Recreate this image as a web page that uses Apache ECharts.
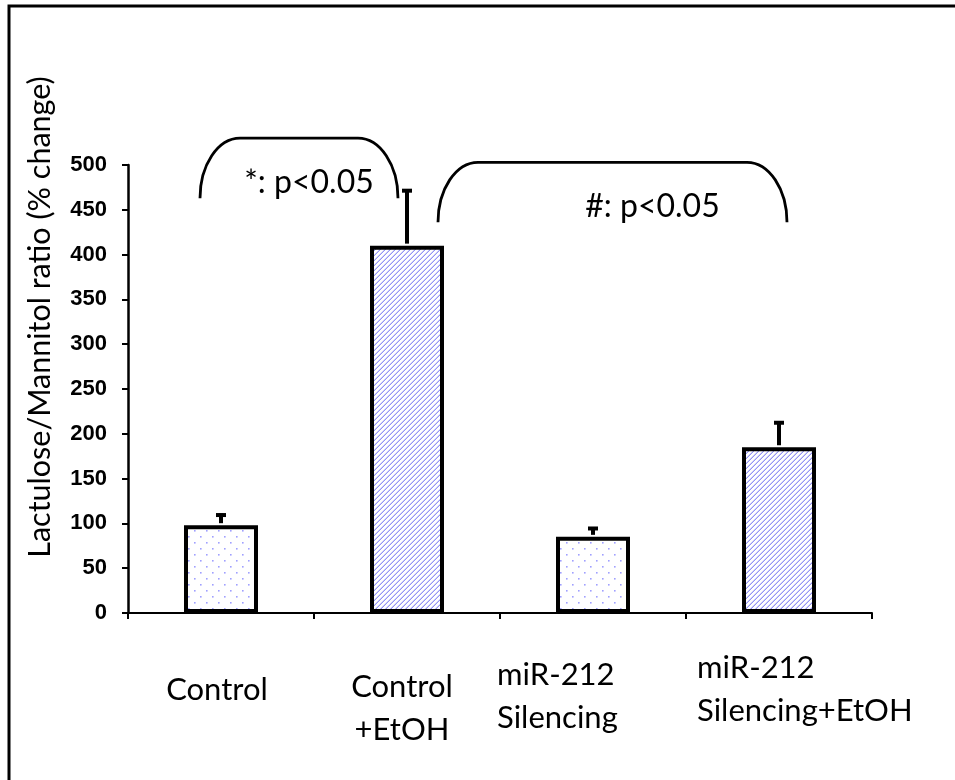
<!DOCTYPE html>
<html>
<head>
<meta charset="utf-8">
<title>Lactulose/Mannitol ratio</title>
<script src="https://cdn.jsdelivr.net/npm/echarts@6/dist/echarts.min.js"></script>
<style>
  html, body { margin: 0; padding: 0; background: #fff; }
  #chart { width: 955px; height: 780px; }
</style>
</head>
<body>
<div id="chart"></div>
<script>
// Groups shown on the x axis
var categories = ['Control', 'Control +EtOH', 'miR-212 Silencing', 'miR-212 Silencing+EtOH'];
// Axis label lines for each group
var categoryLabels = ['Control', 'Control\n+EtOH', 'miR-212\nSilencing', 'miR-212\nSilencing+EtOH'];
// Mean ratio (% change) and standard error for each group
var means = [98, 410, 85, 185];
var errors = [13, 63, 11, 29];
// Fill style per group: dots for non-EtOH, hatching for EtOH
var fills = ['dots', 'hatch', 'dots', 'hatch'];
// Y axis range and tick labels
var yMin = 0, yMax = 500, yStep = 50;
var yTickLabels = [0, 50, 100, 150, 200, 250, 300, 350, 400, 450, 500];
// Significance brackets: compared groups, bracket foot and crest heights, caption
var bracketPairs = [[0, 1], [1, 3]];
var bracketFoot = [463, 436];
var bracketCrest = [530, 503];
var bracketText = ['*: p<0.05', '#: p<0.05'];

var FONT = 'Lato, "Open Sans", sans-serif';

// Small repeating tiles used as bar fills
function makeHatch() {
  var n = 5;
  var c = document.createElement('canvas');
  c.width = n; c.height = n;
  var g = c.getContext('2d');
  g.fillStyle = '#ffffff';
  g.fillRect(0, 0, n, n);
  g.fillStyle = '#9494f5';
  for (var k = 0; k < n; k++) {
    g.fillRect(n - 1 - k, k, 1, 1);
  }
  g.fillStyle = '#cdcdfa';
  for (var j = 0; j < n; j++) {
    g.fillRect((2 * n - 2 - j) % n, j, 1, 1);
  }
  return c;
}
function makeDots() {
  var c = document.createElement('canvas');
  c.width = 12; c.height = 12;
  var g = c.getContext('2d');
  g.fillStyle = '#ffffff';
  g.fillRect(0, 0, 12, 12);
  g.fillStyle = '#a0a0ff';
  g.fillRect(2, 2, 1.6, 1.6);
  g.fillRect(8, 8, 1.6, 1.6);
  return c;
}
var patterns = {
  hatch: { image: makeHatch(), repeat: 'repeat' },
  dots: { image: makeDots(), repeat: 'repeat' }
};

// Bracket and caption placement, in pixels relative to group centres
var bracketStyle = [
  { left: -21, right: -9, textDx: 10, textY: 183 },
  { left: 31, right: 8, textDx: 40, textY: 207 }
];
// Axis label placement relative to each group centre
var labelStyle = [
  { dx: -4, top: 668, align: 'center' },
  { dx: -5, top: 665, align: 'center' },
  { dx: -96, top: 653, align: 'left' },
  { dx: -82, top: 646, align: 'left' }
];

var chart = echarts.init(document.getElementById('chart'), null, { renderer: 'canvas' });

var barData = means.map(function (v, i) {
  return {
    value: v,
    itemStyle: { color: patterns[fills[i]] }
  };
});

var errData = means.map(function (v, i) { return [i, v, errors[i]]; });
var bracketData = bracketPairs.map(function (p, k) {
  return [p[0], p[1], bracketFoot[k], bracketCrest[k], k];
});
var labelData = categories.map(function (c, i) { return [i, 0]; });
var yLabelData = yTickLabels.map(function (v) { return [0, v]; });

var option = {
  animation: false,
  backgroundColor: '#ffffff',
  grid: { left: 128, right: 83, top: 165, bottom: 167, containLabel: false },
  xAxis: {
    type: 'category',
    data: categories,
    boundaryGap: true,
    axisLine: { lineStyle: { color: '#000', width: 2 } },
    axisTick: { show: true, inside: false, length: 6, lineStyle: { color: '#000', width: 2 } },
    axisLabel: { show: false },
    splitLine: { show: false }
  },
  yAxis: {
    type: 'value',
    min: yMin,
    max: yMax,
    interval: yStep,
    axisLine: { show: true, lineStyle: { color: '#000', width: 2.5 } },
    axisTick: { show: true, inside: false, length: 6, lineStyle: { color: '#000', width: 2 } },
    axisLabel: { show: false },
    splitLine: { show: false }
  },
  graphic: [
    {
      type: 'rect',
      shape: { x: 9, y: 6, width: 1400, height: 1400 },
      style: { fill: 'none', stroke: '#000', lineWidth: 3 },
      silent: true
    },
    {
      type: 'text',
      x: 40,
      y: 317,
      rotation: Math.PI / 2,
      style: {
        text: 'Lactulose/Mannitol ratio (% change)',
        font: '30.5px ' + FONT,
        fill: '#000',
        align: 'center',
        verticalAlign: 'middle'
      },
      silent: true
    }
  ],
  series: [
    {
      type: 'bar',
      data: barData,
      barWidth: 74,
      itemStyle: { borderColor: '#000', borderWidth: 4 },
      z: 2
    },
    {
      // Error bars (upper half only)
      type: 'custom',
      data: errData,
      encode: { x: 0, y: 1 },
      clip: false,
      z: 3,
      renderItem: function (params, api) {
        var i = api.value(0), m = api.value(1), e = api.value(2);
        var base = api.coord([i, m]);
        var top = api.coord([i, m + e]);
        return {
          type: 'group',
          children: [
            { type: 'line', shape: { x1: base[0], y1: base[1] - 2, x2: top[0], y2: top[1] }, style: { stroke: '#000', lineWidth: 4 } },
            { type: 'line', shape: { x1: top[0] - 5, y1: top[1] + 1.5, x2: top[0] + 5, y2: top[1] + 1.5 }, style: { stroke: '#000', lineWidth: 4 } }
          ]
        };
      }
    },
    {
      // Significance brackets with their captions
      type: 'custom',
      data: bracketData,
      encode: { x: 0, y: 2 },
      clip: false,
      silent: true,
      z: 4,
      renderItem: function (params, api) {
        var a = api.value(0), b = api.value(1);
        var foot = api.value(2), crest = api.value(3), k = api.value(4);
        var st = bracketStyle[k];
        var x0 = api.coord([a, foot])[0] + st.left;
        var x1 = api.coord([b, foot])[0] + st.right;
        var yb = api.coord([a, foot])[1];
        var yt = api.coord([a, crest])[1];
        var rx = 40, h = yb - yt, kk = 0.5523;
        var path = 'M' + x0 + ',' + yb +
          ' C' + x0 + ',' + (yb - h * kk) + ' ' + (x0 + rx * (1 - kk)) + ',' + yt + ' ' + (x0 + rx) + ',' + yt +
          ' L' + (x1 - rx) + ',' + yt +
          ' C' + (x1 - rx * (1 - kk)) + ',' + yt + ' ' + x1 + ',' + (yb - h * kk) + ' ' + x1 + ',' + yb;
        return {
          type: 'group',
          children: [
            { type: 'path', shape: { pathData: path }, style: { fill: 'none', stroke: '#000', lineWidth: 2.8 } },
            {
              type: 'text',
              x: (x0 + x1) / 2 + st.textDx,
              y: st.textY,
              style: { text: bracketText[k], font: '32px ' + FONT, fill: '#000', align: 'center', verticalAlign: 'middle' }
            }
          ]
        };
      }
    },
    {
      // Group names under the x axis
      type: 'custom',
      data: labelData,
      encode: { x: 0, y: 1 },
      clip: false,
      silent: true,
      z: 4,
      renderItem: function (params, api) {
        var i = api.value(0);
        var p = api.coord([i, 0]);
        var st = labelStyle[i];
        return {
          type: 'text',
          x: p[0] + st.dx,
          y: st.top,
          style: {
            text: categoryLabels[i],
            font: '31px ' + FONT,
            fill: '#000',
            align: st.align,
            verticalAlign: 'top',
            lineHeight: 43
          }
        };
      }
    },
    {
      // Y tick labels, placed at each tick value
      type: 'custom',
      data: yLabelData,
      encode: { x: 0, y: 1 },
      clip: false,
      silent: true,
      z: 4,
      renderItem: function (params, api) {
        var v = api.value(1);
        var p = api.coord([0, v]);
        var x = p[0] - api.size([1, 0])[0] / 2 - 21;
        return {
          type: 'text',
          x: x,
          y: p[1],
          style: {
            text: String(v),
            fontSize: 22,
            fontWeight: 'bold',
            fontFamily: 'Liberation Sans',
            fill: '#000',
            align: 'right',
            verticalAlign: 'middle'
          }
        };
      }
    }
  ]
};

chart.setOption(option);
</script>
</body>
</html>
